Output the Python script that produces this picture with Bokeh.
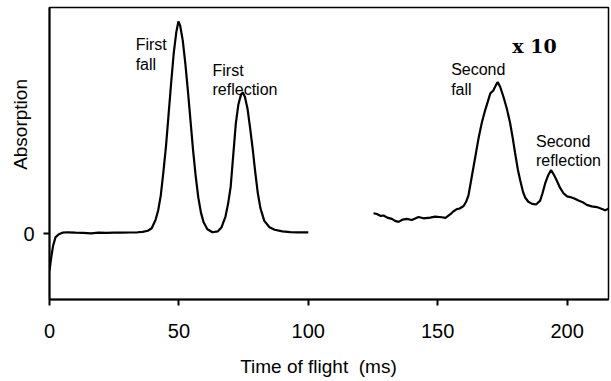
from bokeh.plotting import figure
from bokeh.models import Label, Range1d, FixedTicker
from bokeh.embed import file_html
from bokeh.resources import INLINE

# ---- data ----
# first segment: direct signal (0 - 100 ms)
t1 = [0, 0.7, 1.4, 2.3, 3.6, 5, 7, 10, 13, 16, 19, 22, 25, 28, 31, 34, 36, 38, 39.5,
      41, 42, 43, 44, 45, 46, 47, 48, 49, 49.8, 50.5, 51.5, 52.5, 53.5, 54.5, 55.5,
      56.5, 57.5, 58.5, 59.5, 61, 63, 65, 66.5, 68, 69, 70, 71, 72, 73, 74, 74.7,
      75.5, 76.5, 77.5, 78.5, 79.5, 80.5, 81.5, 83, 85, 87, 90, 93, 96, 100]
a1 = [-0.175, -0.11, -0.057, -0.018, -0.003, 0.004, 0.006, 0.004, 0.003, 0.001, 0.004,
      0.003, 0.004, 0.004, 0.005, 0.006, 0.008, 0.013, 0.025,
      0.065, 0.11, 0.18, 0.29, 0.41, 0.56, 0.71, 0.85, 0.95, 1.0, 0.98, 0.91, 0.80,
      0.67, 0.53, 0.39, 0.27, 0.17, 0.10, 0.055, 0.02, 0.006, 0.01, 0.03, 0.08, 0.14,
      0.22, 0.37, 0.52, 0.61, 0.655, 0.665, 0.645, 0.59, 0.50, 0.40, 0.29, 0.19, 0.12,
      0.06, 0.03, 0.018, 0.01, 0.007, 0.006, 0.006]

# second segment: magnified x10 (125 - 216 ms)
t2 = [125.2, 126.5, 128, 129.1, 130.5, 132.3, 133.5, 134.9, 136.5, 138.1, 140, 142.6,
      144.5, 147.1, 149, 151.6, 153, 154.8, 156, 157.4, 158.5, 160, 161, 161.9, 163.2,
      164.5, 165.8, 167, 168.3, 169.3, 170.3, 171.5, 172.5, 173.2, 174.2, 175.4, 176.7,
      178, 179, 179.9, 181, 181.9, 183, 183.8, 185, 186.5, 188, 189.6, 190.5, 191.5,
      192.7, 193.8, 195, 196, 197.3, 198.6, 200, 201.2, 202.8, 204.4, 206, 207.6,
      209.5, 211.5, 213, 214.7, 216]
a2 = [0.096, 0.092, 0.083, 0.085, 0.075, 0.069, 0.060, 0.055, 0.066, 0.069, 0.064,
      0.078, 0.072, 0.075, 0.08, 0.077, 0.074, 0.09, 0.104, 0.115, 0.118, 0.13, 0.15,
      0.18, 0.27, 0.36, 0.45, 0.52, 0.58, 0.62, 0.66, 0.675, 0.70, 0.715, 0.69, 0.645,
      0.59, 0.52, 0.45, 0.38, 0.30, 0.25, 0.195, 0.17, 0.15, 0.14, 0.137, 0.155, 0.19,
      0.235, 0.275, 0.30, 0.275, 0.25, 0.215, 0.19, 0.175, 0.172, 0.165, 0.156, 0.148,
      0.135, 0.128, 0.125, 0.118, 0.11, 0.117]

x_ticks = [0, 50, 100, 150, 200]
y_ticks = [0]

# annotations: (text, x, y baseline)
notes = [("First", 33.3, 0.89), ("fall", 33.3, 0.795),
         ("First", 63.0, 0.77), ("reflection", 63.0, 0.678),
         ("Second", 155.2, 0.772), ("fall", 155.2, 0.681),
         ("Second", 188.0, 0.434), ("reflection", 188.0, 0.345)]
mag_text = "x 10"

FONT = "Liberation Sans"
NB = "\u00a0"

p = figure(width=611, height=381, output_backend="svg", toolbar_location=None,
           x_range=Range1d(0, 216), y_range=Range1d(-0.311, 1.066),
           min_border_left=49, min_border_right=3, min_border_top=7,
           min_border_bottom=82, background_fill_color="white",
           border_fill_color="white")

p.xgrid.visible = False
p.ygrid.visible = False
p.outline_line_color = "black"
p.outline_line_width = 1.5
p.outline_line_alpha = 1.0

p.xaxis.ticker = FixedTicker(ticks=x_ticks)
p.yaxis.ticker = FixedTicker(ticks=y_ticks)
for ax in (p.xaxis, p.yaxis):
    ax.axis_line_width = 2
    ax.axis_line_color = "black"
    ax.major_tick_line_width = 2
    ax.major_tick_line_color = "black"
    ax.major_tick_in = 0
    ax.major_tick_out = 6
    ax.minor_tick_line_color = None
    ax.major_label_text_font = FONT
    ax.major_label_text_font_size = "20px"
    ax.major_label_text_color = "black"
    ax.axis_label_text_font = FONT
    ax.axis_label_text_font_size = "19px"
    ax.axis_label_text_font_style = "normal"
    ax.axis_label_text_color = "black"
p.xaxis.major_label_standoff = 18
p.yaxis.major_label_standoff = 9

# axis titles (padding with no-break spaces to shift them off centre like the reference)
p.xaxis.axis_label = "Time of flight" + NB + " (ms)" + NB * 4
p.xaxis.axis_label_standoff = 15
p.yaxis.axis_label = NB * 11 + "Absorption"
p.yaxis.axis_label_standoff = -11

p.line(t1, a1, line_color="black", line_width=2.2)
p.line(t2, a2, line_color="black", line_width=2.2)

for txt, x, y in notes:
    p.add_layout(Label(x=x, y=y, text=txt, text_font=FONT, text_font_size="16px",
                       text_color="black", text_baseline="alphabetic", text_align="left"))

p.add_layout(Label(x=178.8, y=0.885, text=mag_text, text_font="DejaVu Serif",
                   text_font_style="bold", text_font_size="19px", text_color="black",
                   text_baseline="alphabetic", text_align="left"))

open("out.html", "w").write(file_html(p, INLINE))
